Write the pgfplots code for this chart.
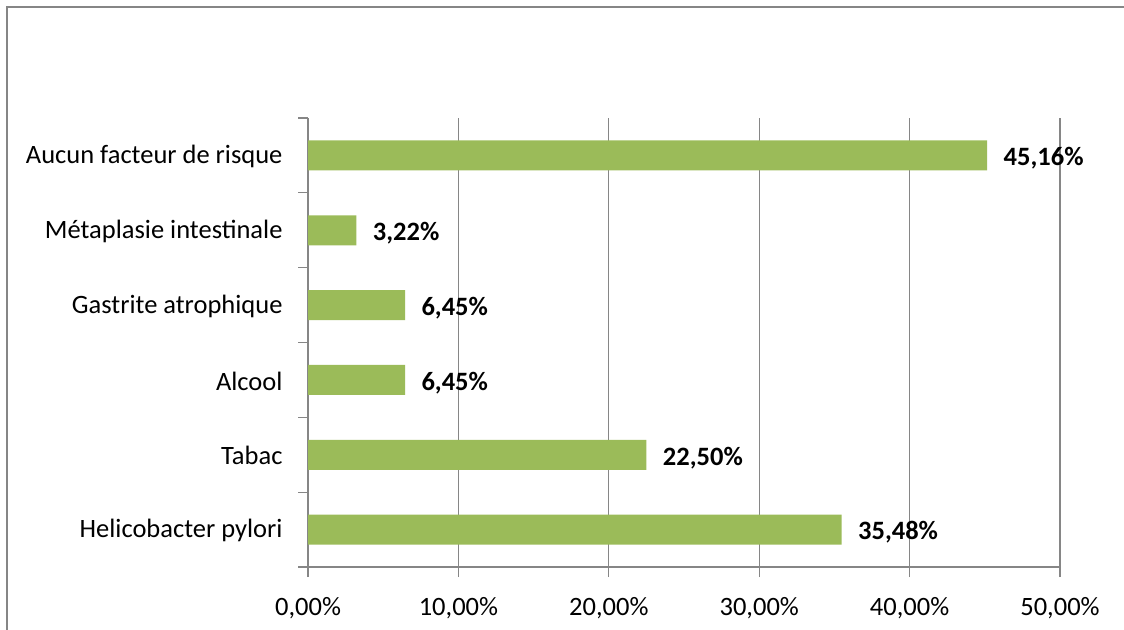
\documentclass[border=0pt]{standalone}
\usepackage{fontspec}
\setmainfont{Carlito}
\usepackage{pgfplots}
\pgfplotsset{compat=1.18}
\definecolor{bargreen}{HTML}{9BBB59}
\definecolor{axgray}{HTML}{868686}
\begin{document}
\begin{tikzpicture}[x=1bp,y=1bp]
\path[use as bounding box] (0,0) rectangle (1124,-630);
\draw[axgray, line width=1.3bp] (7,-630) -- (7,-7) -- (1124,-7);
\begin{axis}[
  at={(308bp,-567bp)}, anchor=south west,
  width=752bp, height=449bp, scale only axis,
  xmin=0, xmax=50, ymin=-0.5, ymax=5.5,
  xbar, bar width=30bp,
  axis x line*=bottom, axis y line*=left,
  axis line style={axgray, line width=1.3bp, -},
  xtick={0,10,20,30,40,50},
  xticklabels={{0,00\%},{10,00\%},{20,00\%},{30,00\%},{40,00\%},{50,00\%}},
  xmajorgrids, grid style={axgray, line width=1.3bp},
  tick align=outside, major tick length=10bp, minor tick length=10bp,
  major x tick style={axgray, line width=1.3bp},
  ytick={0,1,2,3,4,5},
  yticklabels={Helicobacter pylori,Tabac,Alcool,Gastrite atrophique,M\'etaplasie intestinale,Aucun facteur de risque},
  major y tick style={draw=none},
  minor ytick={-0.5,0.5,1.5,2.5,3.5,4.5,5.5},
  minor y tick style={axgray, line width=1.3bp},
  ticklabel style={font=\fontsize{26.5bp}{30bp}\selectfont, text=black},
  x tick label style={yshift=-17bp},
  y tick label style={xshift=-12bp, yshift=-1bp},
  point meta=explicit symbolic,
  nodes near coords,
  nodes near coords style={font=\fontsize{26.5bp}{30bp}\selectfont\bfseries, text=black, anchor=west, xshift=13bp, yshift=-3bp},
]
\addplot[fill=bargreen, draw=none] coordinates {
  (35.48,0) [35,48\%]
  (22.50,1) [22,50\%]
  (6.45,2) [6,45\%]
  (6.45,3) [6,45\%]
  (3.22,4) [3,22\%]
  (45.16,5) [45,16\%]
};
\end{axis}
\end{tikzpicture}
\end{document}
